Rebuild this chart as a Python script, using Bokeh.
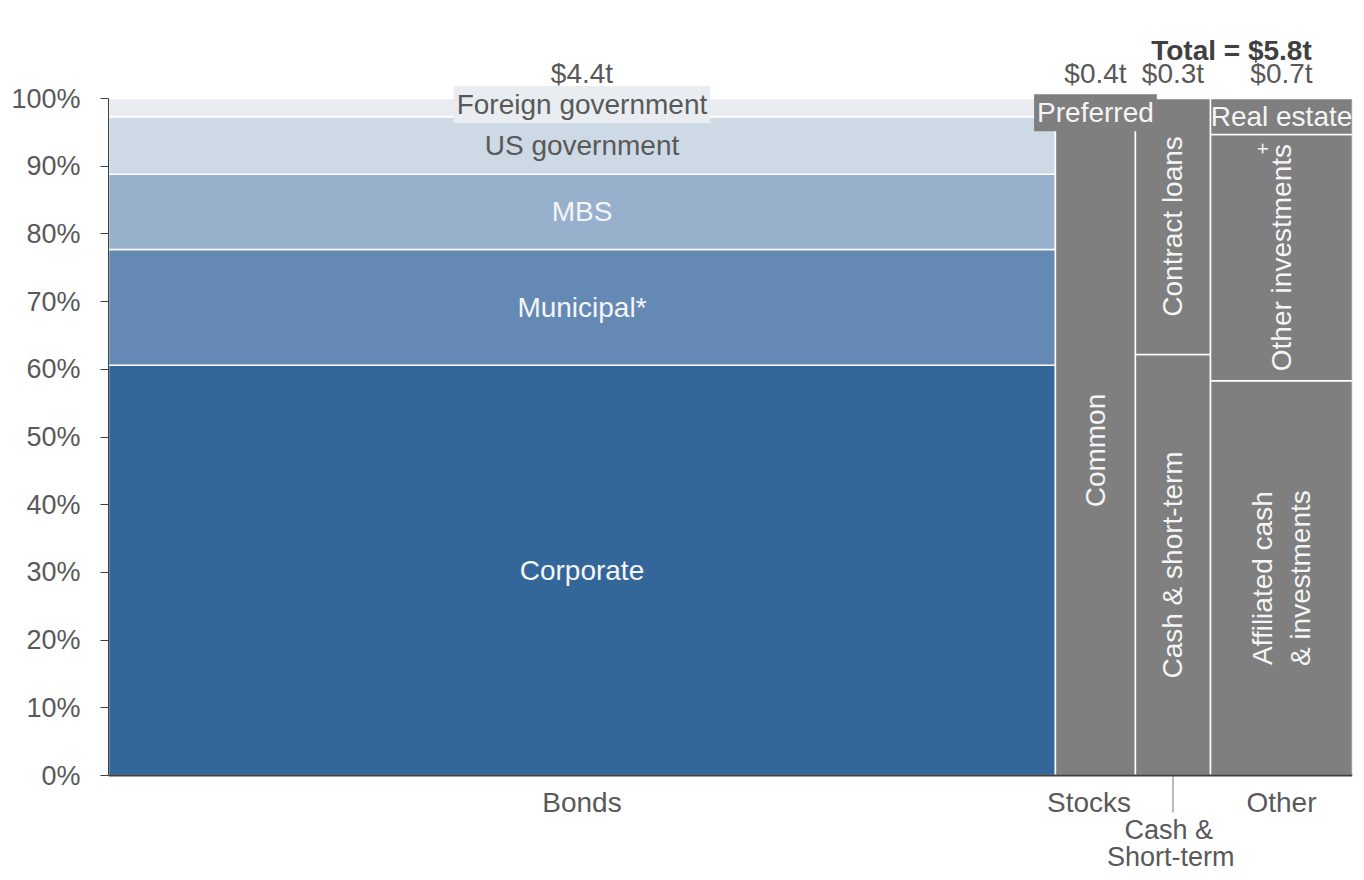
import math
from bokeh.plotting import figure
from bokeh.models import ColumnDataSource, Label, FixedTicker, NumeralTickFormatter, Range1d
from bokeh.embed import file_html
from bokeh.resources import INLINE

# ---------------- data ----------------
groups = ["Bonds", "Stocks", "Cash & Short-term", "Other"]
group_widths = [4.415, 0.373, 0.350, 0.662]          # $ trillions (column widths)
group_value_labels = ["$4.4t", "$0.4t", "$0.3t", "$0.7t"]
total_label = "Total = $5.8t"

bonds_names = ["Corporate", "Municipal*", "MBS", "US government", "Foreign government"]
bonds_shares = [0.606, 0.171, 0.111, 0.085, 0.027]
stocks_names = ["Common", "Preferred"]
stocks_shares = [0.98, 0.02]
cash_names = ["Cash & short-term", "Contract loans"]
cash_shares = [0.622, 0.378]
other_names = ["Affiliated cash\n& investments", "Other investments", "Real estate"]
other_shares = [0.583, 0.364, 0.053]

y_ticks = [0.0, 0.1, 0.2, 0.3, 0.4, 0.5, 0.6, 0.7, 0.8, 0.9, 1.0]

# ---------------- styles ----------------
FONT = "Liberation Sans"
TXT = "#595959"
WHITE = "#f5f5f5"
GRAY = "#7f7f7f"
bonds_colors = ["#336699", "#6389b4", "#97b0cc", "#cdd9e5", "#e9edf2"]
bonds_text = [WHITE, WHITE, WHITE, TXT, TXT]
FS = "28px"

seg_names = [bonds_names, stocks_names, cash_names, other_names]
seg_shares = [bonds_shares, stocks_shares, cash_shares, other_shares]
seg_colors = [bonds_colors, [GRAY] * 2, [GRAY] * 2, [GRAY] * 3]

total = sum(group_widths)
lefts = []
acc = 0.0
for w in group_widths:
    lefts.append(acc)
    acc += w

data = dict(left=[], right=[], bottom=[], top=[], color=[])
centers = {}
for gi, (names, shares, cols) in enumerate(zip(seg_names, seg_shares, seg_colors)):
    b = 0.0
    for n, s, c in zip(names, shares, cols):
        data["left"].append(lefts[gi])
        data["right"].append(lefts[gi] + group_widths[gi])
        data["bottom"].append(b)
        data["top"].append(b + s)
        data["color"].append(c)
        centers[n] = (lefts[gi] + group_widths[gi] / 2, b + s / 2)
        b += s
src = ColumnDataSource(data)

W, H = 1356, 872
PX = 677.0                       # pixels per 100 %
Y0 = 775.0                       # pixel row of 0 %
p = figure(width=W, height=H, output_backend="svg", toolbar_location=None,
           x_range=Range1d(0, total),
           y_range=Range1d(-(H - Y0) / PX, 1 + (Y0 - PX) / PX),
           min_border_left=108, min_border_right=4, min_border_top=0, min_border_bottom=0)
p.outline_line_color = None
p.xgrid.visible = False
p.ygrid.visible = False
p.xaxis.visible = False
p.background_fill_color = "white"

p.quad(left="left", right="right", bottom="bottom", top="top", fill_color="color",
       line_color="white", line_width=1.5, source=src)

# bottom axis line and the separator tick under the cash column
cash_center = lefts[2] + group_widths[2] / 2
p.segment(x0=[cash_center], y0=[0], x1=[cash_center], y1=[-37 / PX],
          line_color="#a6a6a6", line_width=1.5)
p.segment(x0=[0], y0=[0], x1=[total], y1=[0], line_color="#404040", line_width=2)

# y axis
ya = p.yaxis[0]
ya.bounds = (0, 1)
ya.ticker = FixedTicker(ticks=y_ticks)
ya.formatter = NumeralTickFormatter(format="0%")
ya.major_label_text_font = FONT
ya.major_label_text_font_size = "27px"
ya.major_label_text_color = TXT
ya.axis_line_color = "#404040"
ya.major_tick_line_color = "#404040"
ya.major_tick_out = 8
ya.major_tick_in = 0
ya.minor_tick_line_color = None
ya.major_label_standoff = 20


def lab(x, y, text, color=TXT, size=FS, angle=0.0, bold=False, align="center", bg=None, pad=0):
    kw = {}
    if bg is not None:
        kw = dict(background_fill_color=bg, padding=pad)
    p.add_layout(Label(x=x, y=y, text=text, text_font=FONT, text_font_size=size,
                       text_color=color, angle=angle, text_align=align,
                       text_baseline="middle", text_font_style="bold" if bold else "normal",
                       **kw))


# segment labels
for n, c in zip(bonds_names, bonds_text):
    x, y = centers[n]
    if n == "Foreign government":
        lab(x, 0.991, n, color=c, bg="#e9edf2", pad=3)
    else:
        lab(x, y, n, color=c)

ROT = math.pi / 2
x, y = centers["Common"]
lab(x, 0.48, "Common", color=WHITE, angle=ROT)
x, y = centers["Preferred"]
lab(x, 0.979, "Preferred", color=WHITE, bg=GRAY, pad=3)
for n in cash_names:
    x, y = centers[n]
    lab(x, y, n, color=WHITE, angle=ROT)
x, y = centers[other_names[0]]
lab(x, y, other_names[0], color=WHITE, angle=ROT)
x, y = centers["Other investments"]
lab(x, y, "Other investments", color=WHITE, angle=ROT)
lab(x - 0.084, 0.926, "+", color=WHITE, size="20px", angle=ROT)
x, y = centers["Real estate"]
lab(x, y, "Real estate", color=WHITE)

# column value labels and total
for gi, t in enumerate(group_value_labels):
    lab(lefts[gi] + group_widths[gi] / 2, 1.037, t)
lab(5.61, 1.071, total_label, color="#404040", bold=True, align="right")

# category labels below
lab(lefts[0] + group_widths[0] / 2, -0.040, "Bonds")
lab(lefts[1] + group_widths[1] / 2 - 0.03, -0.040, "Stocks")
lab(lefts[3] + group_widths[3] / 2, -0.040, "Other")
lab(cash_center - 0.02, -(829 - Y0) / PX, "Cash &", size="27px")
lab(cash_center - 0.01, -(856 - Y0) / PX, "Short-term", size="27px")

open("out.html", "w").write(file_html(p, INLINE))
